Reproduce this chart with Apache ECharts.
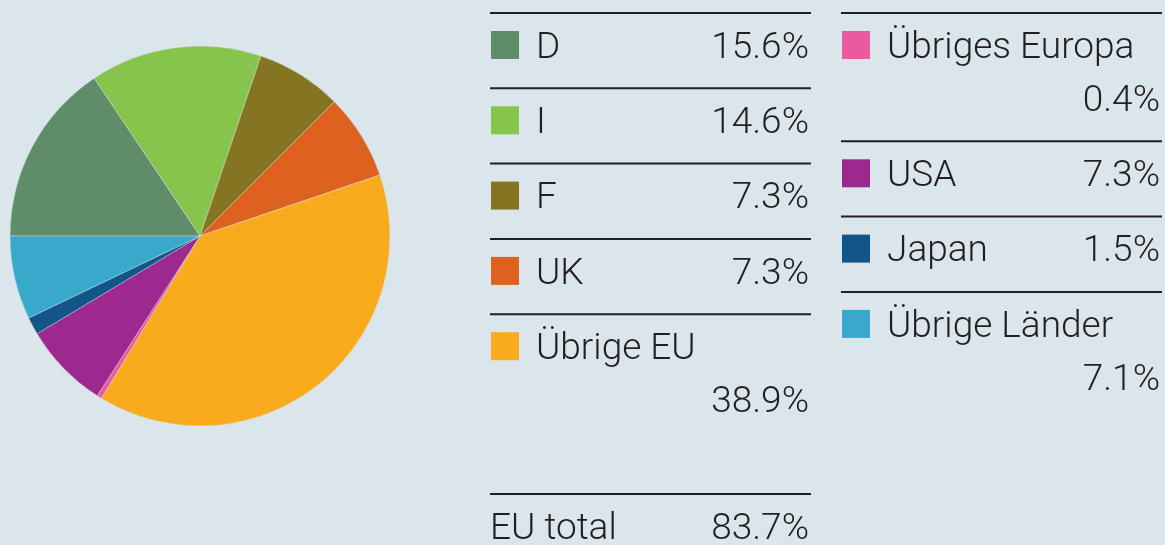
<!DOCTYPE html>
<html>
<head>
<meta charset="utf-8">
<title>Anteile nach Regionen</title>
<script src="https://cdn.jsdelivr.net/npm/echarts@6/dist/echarts.min.js"></script>
<style>
  html, body { margin: 0; padding: 0; background: #dae5ec; }
  #chart { width: 1165px; height: 545px; }
</style>
</head>
<body>
<div id="chart"></div>
<script>
// Shares by region, in percent (clockwise from 9 o'clock)
const categories = ['D', 'I', 'F', 'UK', 'Übrige EU', 'Übriges Europa', 'USA', 'Japan', 'Übrige Länder'];
const shares = [15.6, 14.6, 7.3, 7.3, 38.9, 0.4, 7.3, 1.5, 7.1];
const colors = ['#5f8c69', '#86c44b', '#857522', '#de621f', '#f9ab1d', '#e95a9e', '#9d288e', '#135489', '#38a8cb'];
const totalLabel = 'EU total';
const totalValue = 83.7;

const BG = '#dae5ec';
const INK = '#231f20';
const FONT = '300 37px Roboto, "Liberation Sans", sans-serif';

const fmt = v => v.toFixed(1) + '%';

// Table layout: EU members on the left, the rest on the right
const columns = [
  { items: [0, 1, 2, 3, 4], x0: 490, x1: 811 },
  { items: [5, 6, 7, 8], x0: 841, x1: 1162 }
];
// Rows whose value drops to a second line
const wrapped = new Set(['Übrige EU', 'Übriges Europa', 'Übrige Länder']);
const ROW = 75.3, WRAP = 53, BASE = 46, TOP = 13;

const graphics = [];
function hline(x0, x1, y) {
  graphics.push({
    type: 'line', silent: true,
    shape: { x1: x0, y1: y, x2: x1, y2: y },
    style: { stroke: INK, lineWidth: 2 }
  });
}
function text(str, x, y, align) {
  graphics.push({
    type: 'text', silent: true, x: x, y: y,
    style: { text: str, font: FONT, fill: INK, align: align, verticalAlign: 'bottom' }
  });
}
// y values below are baselines; bottom-aligned text sits a little lower
const DESC = 8;

columns.forEach(col => {
  let y = TOP;
  col.items.forEach(i => {
    hline(col.x0, col.x1, y);
    const base = y + BASE;
    graphics.push({
      type: 'rect', silent: true,
      shape: { x: col.x0 + 1, y: base - 28, width: 28, height: 28 },
      style: { fill: colors[i] }
    });
    text(categories[i], col.x0 + 46, base + DESC, 'left');
    const wrap = wrapped.has(categories[i]);
    text(fmt(shares[i]), col.x1 - 2, base + (wrap ? WRAP : 0) + DESC, 'right');
    y += ROW + (wrap ? WRAP : 0);
  });
});

// EU total row
hline(columns[0].x0, columns[0].x1, 494);
text(totalLabel, columns[0].x0, 540 + DESC, 'left');
text(fmt(totalValue), columns[0].x1 - 2, 540 + DESC, 'right');

const chart = echarts.init(document.getElementById('chart'), null, { renderer: 'canvas' });
chart.setOption({
  backgroundColor: BG,
  animation: false,
  series: [{
    type: 'pie',
    center: [200, 236],
    radius: 190,
    startAngle: 180,
    clockwise: true,
    silent: true,
    label: { show: false },
    labelLine: { show: false },
    itemStyle: { borderColor: BG, borderWidth: 0.4 },
    data: categories.map((name, i) => ({ name: name, value: shares[i], itemStyle: { color: colors[i] } }))
  }],
  graphic: graphics
});
</script>
</body>
</html>
